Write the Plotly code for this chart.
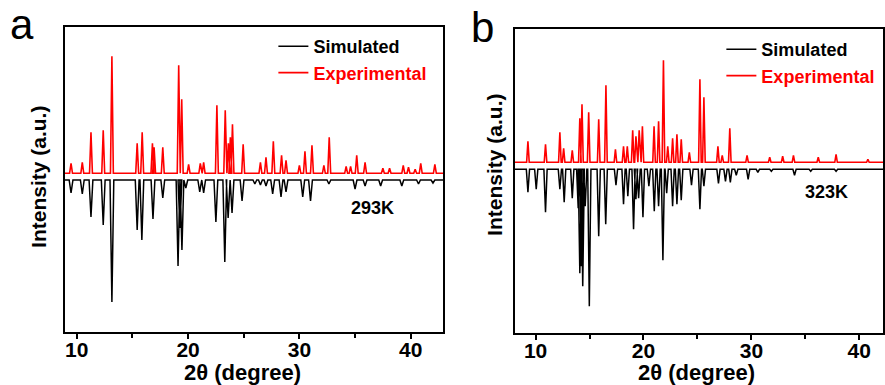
import plotly.graph_objects as go

# ---------------- data (2theta in degrees, intensity in a.u.) ----------------
# Panel a, 293 K
a_exp_pos = [9.49, 10.5, 11.28, 12.38, 13.16, 15.43, 15.88, 16.8, 16.95, 17.73, 19.16, 19.43,
             20.05, 21.1, 21.4, 22.59, 23.34, 23.62, 23.8, 23.99, 24.95, 26.5, 27.0, 27.66,
             28.4, 28.8, 30.0, 30.5, 31.13, 32.2, 32.68, 34.2, 34.6, 35.15, 35.9, 37.5,
             38.1, 39.33, 39.8, 40.4, 40.9, 42.17]
a_exp_int = [10, 11, 41, 43, 117, 30, 41, 30, 26, 26, 108, 74,
             9, 10, 11, 68, 63, 30, 36, 49, 29, 11, 16, 32,
             18, 13, 8, 22, 28, 8, 36, 7, 7, 18, 11, 5,
             5, 8, 6, 4, 10, 9]
a_sim_pos = [9.49, 10.5, 11.28, 12.38, 13.16, 15.43, 15.85, 16.85, 17.73, 19.1, 19.27, 19.45,
             19.8, 21.05, 21.4, 22.5, 23.3, 23.6, 23.95, 24.85, 26.0, 26.5, 27.0, 27.6,
             28.35, 28.8, 30.3, 31.0, 32.65, 35.0, 35.9, 37.3, 39.2, 40.7, 42.0]
a_sim_int = [13, 14, 37, 45, 122, 50, 60, 39, 18, 86, 48, 70,
             8, 12, 13, 42, 82, 38, 33, 21, 4, 5, 6, 14,
             17, 12, 17, 21, 4, 9, 6, 6, 6, 4, 3]

# Panel b, 323 K
b_exp_pos = [9.29, 10.92, 12.25, 12.6, 13.4, 14.1, 14.3, 14.92, 15.85, 16.52, 17.4, 18.15,
             18.5, 19.0, 19.3, 19.6, 19.9, 20.98, 21.4, 21.85, 22.25, 22.7, 23.1, 23.5,
             24.25, 25.23, 25.6, 26.9, 27.3, 28.0, 29.6, 31.7, 32.9, 33.9, 36.2, 37.85, 40.8]
b_exp_int = [21, 18, 30, 14, 12, 44, 58, 50, 43, 77, 13, 16,
             16, 32, 26, 32, 36, 36, 41, 102, 16, 24, 28, 23,
             10, 83, 65, 16, 7, 34, 7, 5, 6, 7, 5, 8, 3]
b_sim_pos = [9.29, 10.06, 10.92, 12.25, 12.65, 13.4, 13.95, 14.1, 14.25, 14.37, 14.6, 14.98,
             15.85, 16.5, 17.45, 18.15, 18.55, 19.08, 19.3, 19.55, 19.95, 20.5, 21.0, 21.4,
             21.8, 22.15, 22.7, 23.1, 23.5, 24.45, 25.23, 25.6, 26.95, 27.6, 28.05, 28.6,
             29.7, 30.6, 31.85, 34.0, 35.5, 37.85]
b_sim_int = [23, 20, 43, 20, 33, 29, 39, 104, 97, 117, 37, 137,
             67, 55, 16, 35, 27, 60, 30, 29, 48, 17, 42, 37,
             91, 24, 37, 35, 31, 16, 40, 17, 14, 12, 13, 6,
             10, 3, 2, 6, 2, 2]

x_ticks = [10, 20, 30, 40]
x_minor_ticks = [15, 25, 35]
legend_names = ["Simulated", "Experimental"]
temps = ["293K", "323K"]
panel_labels = ["a", "b"]


def pattern(pos, inten, base, sign, hw, xmin, xmax):
    xs, ys = [xmin], [base]
    for p, h in sorted(zip(pos, inten)):
        xs += [p - hw, p, p + hw]
        ys += [base, base + sign * h, base]
    xs.append(xmax)
    ys.append(base)
    return xs, ys


FONT = "Liberation Sans, Arial, sans-serif"
RED = "#ff0000"
BLACK = "#000000"

xr_a = [8.93, 42.9]
xr_b = [8.08, 42.2]

fig = go.Figure()

# panel a
sx, sy = pattern(a_sim_pos, a_sim_int, 152, -1, 0.17, xr_a[0], xr_a[1])
ex, ey = pattern(a_exp_pos, a_exp_int, 158.7, 1, 0.13, xr_a[0], xr_a[1])
fig.add_trace(go.Scatter(x=sx, y=sy, mode="lines", line=dict(color=BLACK, width=1.5),
                         name=legend_names[0], xaxis="x", yaxis="y", legend="legend"))
fig.add_trace(go.Scatter(x=ex, y=ey, mode="lines", line=dict(color=RED, width=1.6),
                         name="<span style='color:#ff0000'>" + legend_names[1] + "</span>",
                         xaxis="x", yaxis="y", legend="legend"))
# panel b
sx, sy = pattern(b_sim_pos, b_sim_int, 163.7, -1, 0.15, xr_b[0], xr_b[1])
ex, ey = pattern(b_exp_pos, b_exp_int, 170.7, 1, 0.12, xr_b[0], xr_b[1])
fig.add_trace(go.Scatter(x=sx, y=sy, mode="lines", line=dict(color=BLACK, width=1.5),
                         name=legend_names[0], xaxis="x2", yaxis="y2", legend="legend2"))
fig.add_trace(go.Scatter(x=ex, y=ey, mode="lines", line=dict(color=RED, width=1.6),
                         name="<span style='color:#ff0000'>" + legend_names[1] + "</span>",
                         xaxis="x2", yaxis="y2", legend="legend2"))

xcommon = dict(showline=True, mirror=True, linecolor=BLACK, linewidth=2, showgrid=False,
               zeroline=False, ticks="outside", ticklen=5, tickwidth=1.5, tickcolor=BLACK,
               ticklabelstandoff=-7,
               tickvals=x_ticks, tickfont=dict(family=FONT, size=21, color=BLACK, weight="bold"),
               minor=dict(tickvals=x_minor_ticks, ticks="outside", ticklen=4, tickcolor=BLACK,
                          tickwidth=1.5))
ycommon = dict(showline=True, mirror=True, linecolor=BLACK, linewidth=2, showgrid=False,
               zeroline=False, showticklabels=False, ticks="")

fig.update_layout(
    width=885, height=385, margin=dict(l=0, r=0, t=0, b=0),
    paper_bgcolor="white", plot_bgcolor="white",
    xaxis=dict(domain=[0.0734, 0.5017], range=xr_a, anchor="y", **xcommon),
    yaxis=dict(domain=[0.1377, 0.9299], range=[0, 305], anchor="x", **ycommon),
    xaxis2=dict(domain=[0.5831, 1.0], range=xr_b, anchor="y2", **xcommon),
    yaxis2=dict(domain=[0.1351, 0.9247], range=[0, 304], anchor="x2", **ycommon),
    legend=dict(x=274 / 885, y=1 - 28 / 385, xanchor="left", yanchor="top",
                bgcolor="rgba(0,0,0,0)", tracegroupgap=0,
                font=dict(family=FONT, size=18, color=BLACK, weight="bold")),
    legend2=dict(x=723 / 885, y=1 - 31 / 385, xanchor="left", yanchor="top",
                 bgcolor="rgba(0,0,0,0)", tracegroupgap=0,
                 font=dict(family=FONT, size=18, color=BLACK, weight="bold")),
    showlegend=True,
)

ann = []
# axis titles
for xc, yc in [(243, 372), (698, 372)]:
    ann.append(dict(text="2θ (degree)", x=xc / 885, y=1 - yc / 385, xref="paper", yref="paper",
                    xanchor="center", yanchor="middle", showarrow=False,
                    font=dict(family=FONT, size=22, color=BLACK, weight="bold")))
for xc, yc in [(38, 177), (495, 165)]:
    ann.append(dict(text="Intensity (a.u.)", x=xc / 885, y=1 - yc / 385, xref="paper", yref="paper",
                    xanchor="center", yanchor="middle", textangle=-90, showarrow=False,
                    font=dict(family=FONT, size=21, color=BLACK, weight="bold")))
# temperatures
for t, (xc, yc) in zip(temps, [(373, 208), (828, 192)]):
    ann.append(dict(text=t, x=xc / 885, y=1 - yc / 385, xref="paper", yref="paper",
                    xanchor="center", yanchor="middle", showarrow=False,
                    font=dict(family=FONT, size=18, color=BLACK, weight="bold")))
# panel letters
for t, (xc, yc) in zip(panel_labels, [(22, 24), (484, 27)]):
    ann.append(dict(text=t, x=xc / 885, y=1 - yc / 385, xref="paper", yref="paper",
                    xanchor="center", yanchor="middle", showarrow=False,
                    font=dict(family=FONT, size=42, color=BLACK)))
fig.update_layout(annotations=ann)

fig.write_html("out.html", config={"displayModeBar": False},
               post_script="document.body.style.margin='0';document.body.style.overflow='hidden';")
